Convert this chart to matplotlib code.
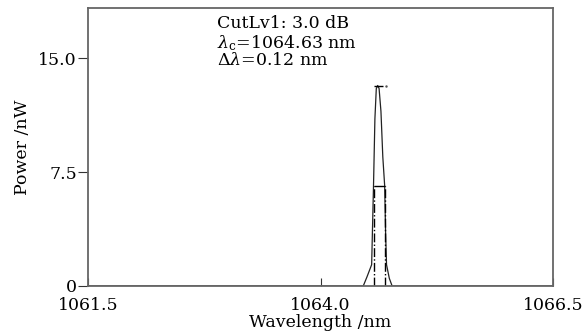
import matplotlib
matplotlib.use("Agg")
import matplotlib.pyplot as plt

plt.rcParams['font.family'] = ['DejaVu Serif']
plt.rcParams['mathtext.fontset'] = 'dejavuserif'

# spectrum (wavelength in nm, power in nW)
wavelength = [1061.5, 1064.40, 1064.46, 1064.50, 1064.55, 1064.56, 1064.57,
              1064.585, 1064.60, 1064.615, 1064.63, 1064.65, 1064.67,
              1064.69, 1064.70, 1064.71, 1064.74, 1064.77, 1066.5]
power = [0, 0, 0, 0.6, 1.4, 4.0, 6.6, 11.0, 13.0, 13.2, 13.0, 11.5, 8.5,
         6.6, 3.5, 1.4, 0.5, 0, 0]

peak_level = 13.2
cut_level = 6.6
cut_left = 1064.57
cut_right = 1064.69
peak_span = [1064.575, 1064.675]

x_ticks = [1061.5, 1064.0, 1066.5]
x_labels = ['1061.5', '1064.0', '1066.5']
y_ticks = [0, 7.5, 15.0]
y_labels = ['0', '7.5', '15.0']

notes = ['CutLv1: 3.0 dB', r'$\lambda_{\rm c}$=1064.63 nm', r'$\Delta\lambda$=0.12 nm']

fig = plt.figure(figsize=(5.83, 3.36), dpi=100)
ax = fig.add_axes([0.151, 0.149, 0.7975, 0.827])

ax.plot(wavelength, power, color='#222222', lw=0.9)

# markers for the 3 dB cut
ax.hlines(peak_level, peak_span[0], peak_span[1], color='black', lw=1.0)
ax.plot([peak_span[1] + 0.03], [peak_level], marker='.', ms=1.5, color='#555555')
ax.hlines(cut_level, cut_left, cut_right, color='black', lw=1.0)
ax.vlines([cut_left, cut_right], 0, cut_level, color='black', lw=1.0, linestyles='dashdot')

ax.set_xlim(1061.5, 1066.5)
ax.set_ylim(0, 18.3)
ax.set_xticks(x_ticks)
ax.set_xticklabels(x_labels)
ax.set_yticks(y_ticks)
ax.set_yticklabels(y_labels)
ax.tick_params(axis='x', direction='in', length=6, labelsize=12.5, pad=8, color='#333333')
ax.tick_params(axis='y', direction='out', length=7, labelsize=12.5, pad=1, color='#333333')

for s in ax.spines.values():
    s.set_color('#666666')
    s.set_linewidth(1.3)

ax.set_xlabel('Wavelength /nm', fontsize=12.5, labelpad=0)
ax.set_ylabel('Power /nW', fontsize=12.5, labelpad=5)

for i, t in enumerate(notes):
    ax.text(0.277, 0.975 - i * 0.066, t, transform=ax.transAxes, fontsize=12.5,
            va='top', ha='left')

fig.savefig('out.png', dpi=100)
